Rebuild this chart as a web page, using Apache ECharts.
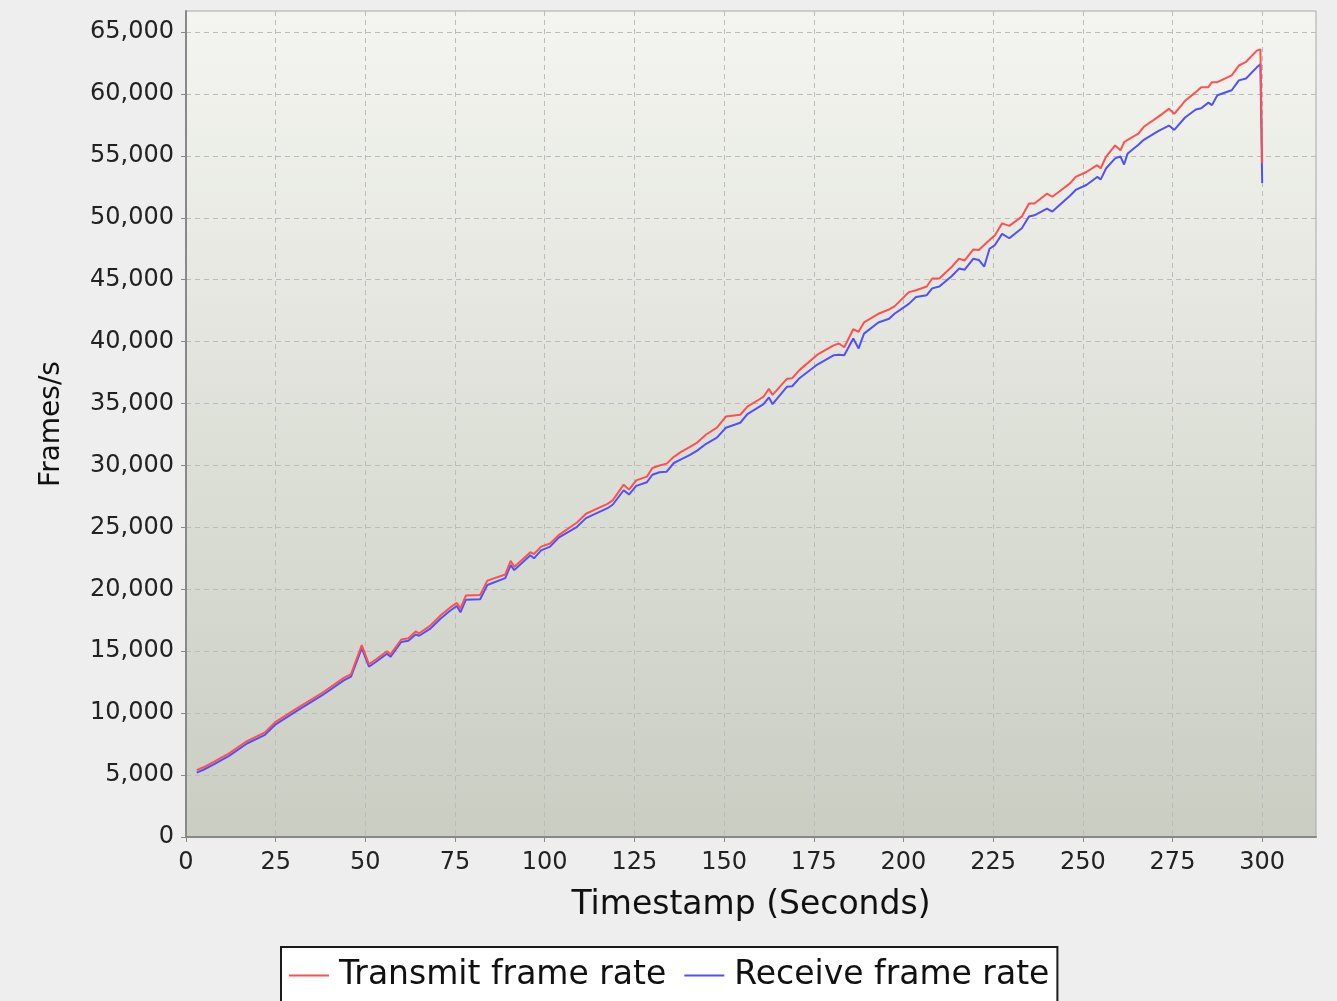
<!DOCTYPE html>
<html>
<head>
<meta charset="utf-8">
<script src="https://cdn.jsdelivr.net/npm/echarts@6/dist/echarts.min.js"></script>
<style>
html,body{margin:0;padding:0;background:#eeeeee;}
#chart{width:1337px;height:1001px;}
</style>
</head>
<body>
<div id="chart"></div>
<script>
const timestamps = [3,5,8,12,17,22,25,31,38,44,46,49,51,53,56,57,60,62,64,65,68,71,73.5,75.5,76.5,78,82,84,89,90.5,91.5,96,97,99,101.5,104,109,111.5,117.5,119,122,123.5,125.5,128.5,130,132,134,136,138,140.5,142.5,145,148,150.5,154.5,156.5,161,162.5,163.5,167.5,169,171,176,180.5,182,183.5,186,187.5,189,193,196,197.5,201.5,203.5,206.5,208,210,213.5,215.5,217,219.5,221,222.5,224,225.5,227.5,229.5,233,235,236.5,240,241.5,244,246.5,248,251,254,255,256.5,259,260.5,261.5,262.5,265.5,267,271,274,275.5,278.5,281.5,283,285,286,287.5,291.5,293.5,295.5,298.5,299.5,300];

const transmitRate = [5400,5650,6100,6750,7750,8450,9300,10400,11650,12850,13150,15500,13950,14350,15000,14750,15950,16050,16600,16450,17050,17900,18500,18900,18450,19500,19550,20700,21200,22300,21800,23000,22850,23450,23700,24400,25400,26100,26900,27200,28450,28050,28800,29100,29800,30000,30150,30700,31100,31500,31850,32500,33050,33950,34100,34750,35550,36200,35700,37000,37050,37700,38950,39700,39850,39550,41000,40800,41550,42250,42600,42850,44000,44150,44450,45100,45100,46050,46700,46550,47450,47400,47800,48200,48600,49550,49350,50100,51150,51150,51950,51700,52250,52800,53300,53700,54250,54000,54950,55850,55450,56100,56300,56800,57350,58150,58800,58400,59450,60150,60550,60550,60950,60950,61500,62300,62600,63500,63600,54400];

const receiveRate = [5200,5450,5900,6550,7550,8250,9100,10200,11450,12650,12950,15250,13750,14150,14800,14550,15750,15850,16350,16250,16800,17650,18250,18650,18150,19150,19200,20350,20900,21950,21550,22750,22500,23150,23450,24200,25050,25750,26550,26850,28000,27650,28350,28650,29250,29450,29500,30200,30500,30850,31200,31750,32250,33050,33450,34150,34950,35500,34950,36350,36400,37050,38150,38900,38950,38900,40250,39450,40650,41550,41850,42250,43050,43600,43750,44300,44450,45300,45900,45800,46700,46600,46050,47500,47800,48700,48350,49150,50100,50200,50750,50500,51150,51800,52250,52650,53300,53100,54000,54800,54950,54300,55200,55900,56300,57000,57450,57100,58100,58750,58850,59300,59100,59900,60300,61100,61250,62150,62400,52800];

const xTickValues = [0,25,50,75,100,125,150,175,200,225,250,275,300];
const yTickValues = [0,5000,10000,15000,20000,25000,30000,35000,40000,45000,50000,55000,60000,65000];

const seriesNames = ['Transmit frame rate','Receive frame rate'];

const chart = echarts.init(document.getElementById('chart'), null, {renderer:'canvas'});

const fontFam = '"DejaVu Sans", Verdana, sans-serif';

const option = {
  backgroundColor: '#eeeeee',
  animation: false,
  grid: {
    left: 186, right: 21, top: 11, bottom: 164,
    show: true,
    borderColor: '#a8a8a8',
    borderWidth: 1,
    backgroundColor: {
      type: 'linear', x: 0, y: 0, x2: 0, y2: 1,
      colorStops: [
        {offset: 0, color: '#f4f5f0'},
        {offset: 1, color: '#c9cdc2'}
      ]
    }
  },
  legend: {
    data: seriesNames,
    left: 281,
    top: 947,
    orient: 'horizontal',
    icon: 'rect',
    padding: [12, 8, 30, 8],
    itemGap: 18,
    itemWidth: 40,
    itemHeight: 2,
    backgroundColor: '#ffffff',
    borderColor: '#1a1a1a',
    borderWidth: 2,
    textStyle: {
      fontFamily: fontFam,
      fontSize: 33,
      color: '#111',
      padding: [0, 0, 0, 5]
    }
  },
  xAxis: {
    type: 'value',
    min: 0,
    max: 315,
    interval: 25,
    name: 'Timestamp (Seconds)',
    nameLocation: 'middle',
    nameGap: 52,
    nameTextStyle: {fontFamily: fontFam, fontSize: 33, color: '#111'},
    axisLine: {show: true, onZero: false, lineStyle: {color: '#888888', width: 2}},
    axisTick: {show: true, length: 5, lineStyle: {color: '#888888'}, customValues: xTickValues},
    axisLabel: {
      fontFamily: fontFam, fontSize: 24, color: '#222', margin: 14,
      customValues: xTickValues
    },
    splitLine: {show: true, lineStyle: {color: '#bcbcbc', type: [5, 4], width: 1}}
  },
  yAxis: {
    type: 'value',
    min: 0,
    max: 66700,
    interval: 5000,
    name: 'Frames/s',
    nameLocation: 'middle',
    nameGap: 120,
    nameRotate: 90,
    nameTextStyle: {fontFamily: fontFam, fontSize: 28, color: '#111'},
    axisLine: {show: true, lineStyle: {color: '#888888', width: 2}},
    axisTick: {show: true, length: 5, lineStyle: {color: '#888888'}, customValues: yTickValues},
    axisLabel: {
      fontFamily: fontFam, fontSize: 24, color: '#222', margin: 12,
      customValues: yTickValues,
      formatter: v => Number(v).toLocaleString('en-US')
    },
    splitLine: {show: true, lineStyle: {color: '#bcbcbc', type: [5, 4], width: 1}}
  },
  series: [
    {
      name: seriesNames[0],
      type: 'line',
      z: 3,
      symbol: 'none',
      lineStyle: {color: '#ff5050', width: 2},
      itemStyle: {color: '#ff5050'},
      data: timestamps.map((t, i) => [t, transmitRate[i]])
    },
    {
      name: seriesNames[1],
      type: 'line',
      z: 2,
      symbol: 'none',
      lineStyle: {color: '#5050ff', width: 2},
      itemStyle: {color: '#5050ff'},
      data: timestamps.map((t, i) => [t, receiveRate[i]])
    }
  ]
};
chart.setOption(option);
</script>
</body>
</html>
